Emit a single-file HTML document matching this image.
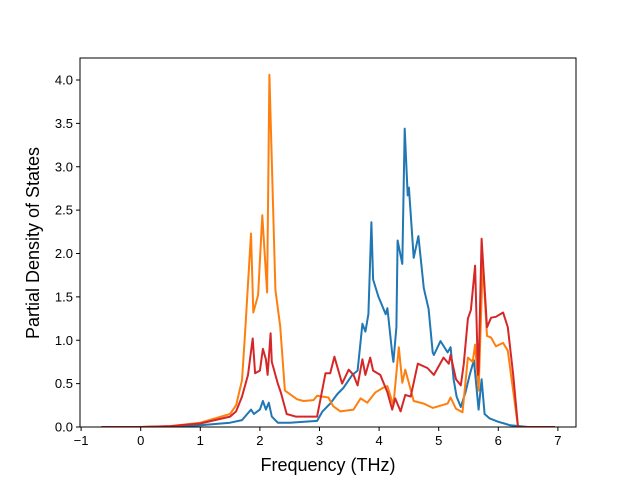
<!DOCTYPE html>
<html><head><meta charset="utf-8"><style>
body{margin:0;background:#fff}
svg text{font-family:"Liberation Sans","DejaVu Sans",sans-serif;fill:#000}
</style></head><body>
<svg id="chart" width="640" height="480" xmlns="http://www.w3.org/2000/svg">
<g id="plot"></g>
<g id="axes"></g>
</svg>
<script>
const xTicks=[-1,0,1,2,3,4,5,6,7];
const yTicks=[0.0,0.5,1.0,1.5,2.0,2.5,3.0,3.5,4.0];
const blueX=[-0.66,0,0.5,1.0,1.5,1.7,1.85,1.9,2.0,2.05,2.1,2.15,2.2,2.3,2.5,2.96,3.05,3.18,3.3,3.4,3.55,3.64,3.72,3.77,3.82,3.87,3.9,3.99,4.11,4.14,4.22,4.24,4.29,4.31,4.39,4.43,4.48,4.5,4.58,4.66,4.75,4.83,4.9,4.92,5.03,5.15,5.2,5.25,5.3,5.37,5.45,5.52,5.59,5.67,5.72,5.77,5.85,6.0,6.1,6.2,6.35,6.5,6.95];
const blueY=[0,0,0.005,0.02,0.05,0.08,0.2,0.15,0.2,0.3,0.2,0.28,0.12,0.05,0.05,0.07,0.18,0.27,0.38,0.45,0.6,0.65,1.19,1.1,1.3,2.36,1.7,1.5,1.3,1.37,0.85,0.75,1.15,2.15,1.88,3.44,2.67,2.76,1.95,2.2,1.6,1.36,0.86,0.83,0.99,0.86,0.92,0.55,0.35,0.23,0.4,0.6,0.77,0.2,0.55,0.15,0.1,0.06,0.04,0.02,0.01,0,0];
const orangeX=[-0.66,0,0.5,1.0,1.5,1.6,1.7,1.75,1.85,1.89,1.97,2.04,2.12,2.16,2.26,2.34,2.42,2.62,2.73,2.9,2.96,3.15,3.23,3.35,3.57,3.69,3.8,3.94,4.06,4.14,4.24,4.33,4.39,4.44,4.58,4.75,4.9,5.15,5.2,5.29,5.4,5.49,5.57,5.61,5.67,5.74,5.81,5.88,5.96,6.08,6.16,6.33,6.95];
const orangeY=[0,0,0.01,0.05,0.15,0.25,0.54,1.07,2.23,1.32,1.52,2.44,1.55,4.06,1.58,1.16,0.42,0.32,0.3,0.31,0.36,0.34,0.24,0.18,0.2,0.33,0.28,0.4,0.45,0.47,0.25,0.92,0.51,0.66,0.3,0.27,0.22,0.27,0.34,0.21,0.17,0.8,0.75,0.95,0.42,1.9,1.05,1.03,0.93,0.97,0.88,0,0];
const redX=[-0.66,0,0.5,1.0,1.5,1.6,1.7,1.8,1.88,1.92,2.0,2.05,2.1,2.13,2.18,2.2,2.3,2.35,2.45,2.6,2.96,3.1,3.18,3.25,3.38,3.49,3.57,3.64,3.72,3.77,3.85,3.9,4.02,4.14,4.22,4.27,4.36,4.44,4.53,4.65,4.81,4.92,5.08,5.17,5.2,5.29,5.37,5.42,5.49,5.54,5.61,5.66,5.67,5.72,5.81,5.88,5.96,6.08,6.16,6.25,6.33,6.95];
const redY=[0,0,0.01,0.04,0.12,0.18,0.35,0.6,1.02,0.62,0.65,0.9,0.78,0.6,1.08,0.75,0.5,0.4,0.15,0.12,0.12,0.62,0.62,0.81,0.5,0.66,0.6,0.48,0.78,0.6,0.8,0.65,0.6,0.4,0.2,0.33,0.18,0.37,0.35,0.73,0.68,0.6,0.8,0.73,0.83,0.55,0.48,0.72,1.25,1.35,1.86,0.6,0.65,2.17,1.15,1.26,1.27,1.32,1.15,0.6,0,0];
const L=80,R=576,T=58,B=427;
const sx=v=>140.7+(v)*59.6;
const sy=v=>B-v*86.75;
const NS='http://www.w3.org/2000/svg';
const plot=document.getElementById('plot'),axes=document.getElementById('axes');
function mk(t,a,p){const e=document.createElementNS(NS,t);for(const k in a)e.setAttribute(k,a[k]);p.appendChild(e);return e;}
const cp=mk('clipPath',{id:'cp'},plot);mk('rect',{x:L,y:T,width:R-L,height:B-T},cp);
function line(xs,ys,c,name){
  const d=xs.map((x,i)=>(i?'L':'M')+sx(x).toFixed(1)+','+sy(ys[i]).toFixed(1)).join('');
  const p=mk('path',{d:d,fill:'none',stroke:c,'stroke-width':2,'stroke-linejoin':'round','clip-path':'url(#cp)'},plot);
  
  
}
line(blueX,blueY,'#1f77b4','series-blue');
line(orangeX,orangeY,'#ff7f0e','series-orange');
line(redX,redY,'#d62728','series-red');
const fr=mk('rect',{x:L,y:T,width:R-L,height:B-T,fill:'none',stroke:'#000','stroke-width':1},axes);


xTicks.forEach(t=>{const x=sx(t);
  mk('line',{x1:x,x2:x,y1:B,y2:B+4,stroke:'#000'},axes);
  const tx=mk('text',{x:x,y:B+18,'text-anchor':'middle','font-size':13},axes);
  tx.textContent=t<0?'\u2212'+(-t):String(t);
  
  
});
yTicks.forEach(t=>{const y=sy(t);
  mk('line',{x1:L-4,x2:L,y1:y,y2:y,stroke:'#000'},axes);
  const tx=mk('text',{x:L-7,y:y+4.5,'text-anchor':'end','font-size':13},axes);
  tx.textContent=t.toFixed(1);
  
  
});
const xl=mk('text',{x:328,y:471,'text-anchor':'middle','font-size':18},axes);
xl.textContent='Frequency (THz)';


const yl=mk('text',{x:0,y:0,'text-anchor':'middle','font-size':18,transform:'translate(39,243) rotate(-90)'},axes);
yl.textContent='Partial Density of States';


</script>
</body></html>
